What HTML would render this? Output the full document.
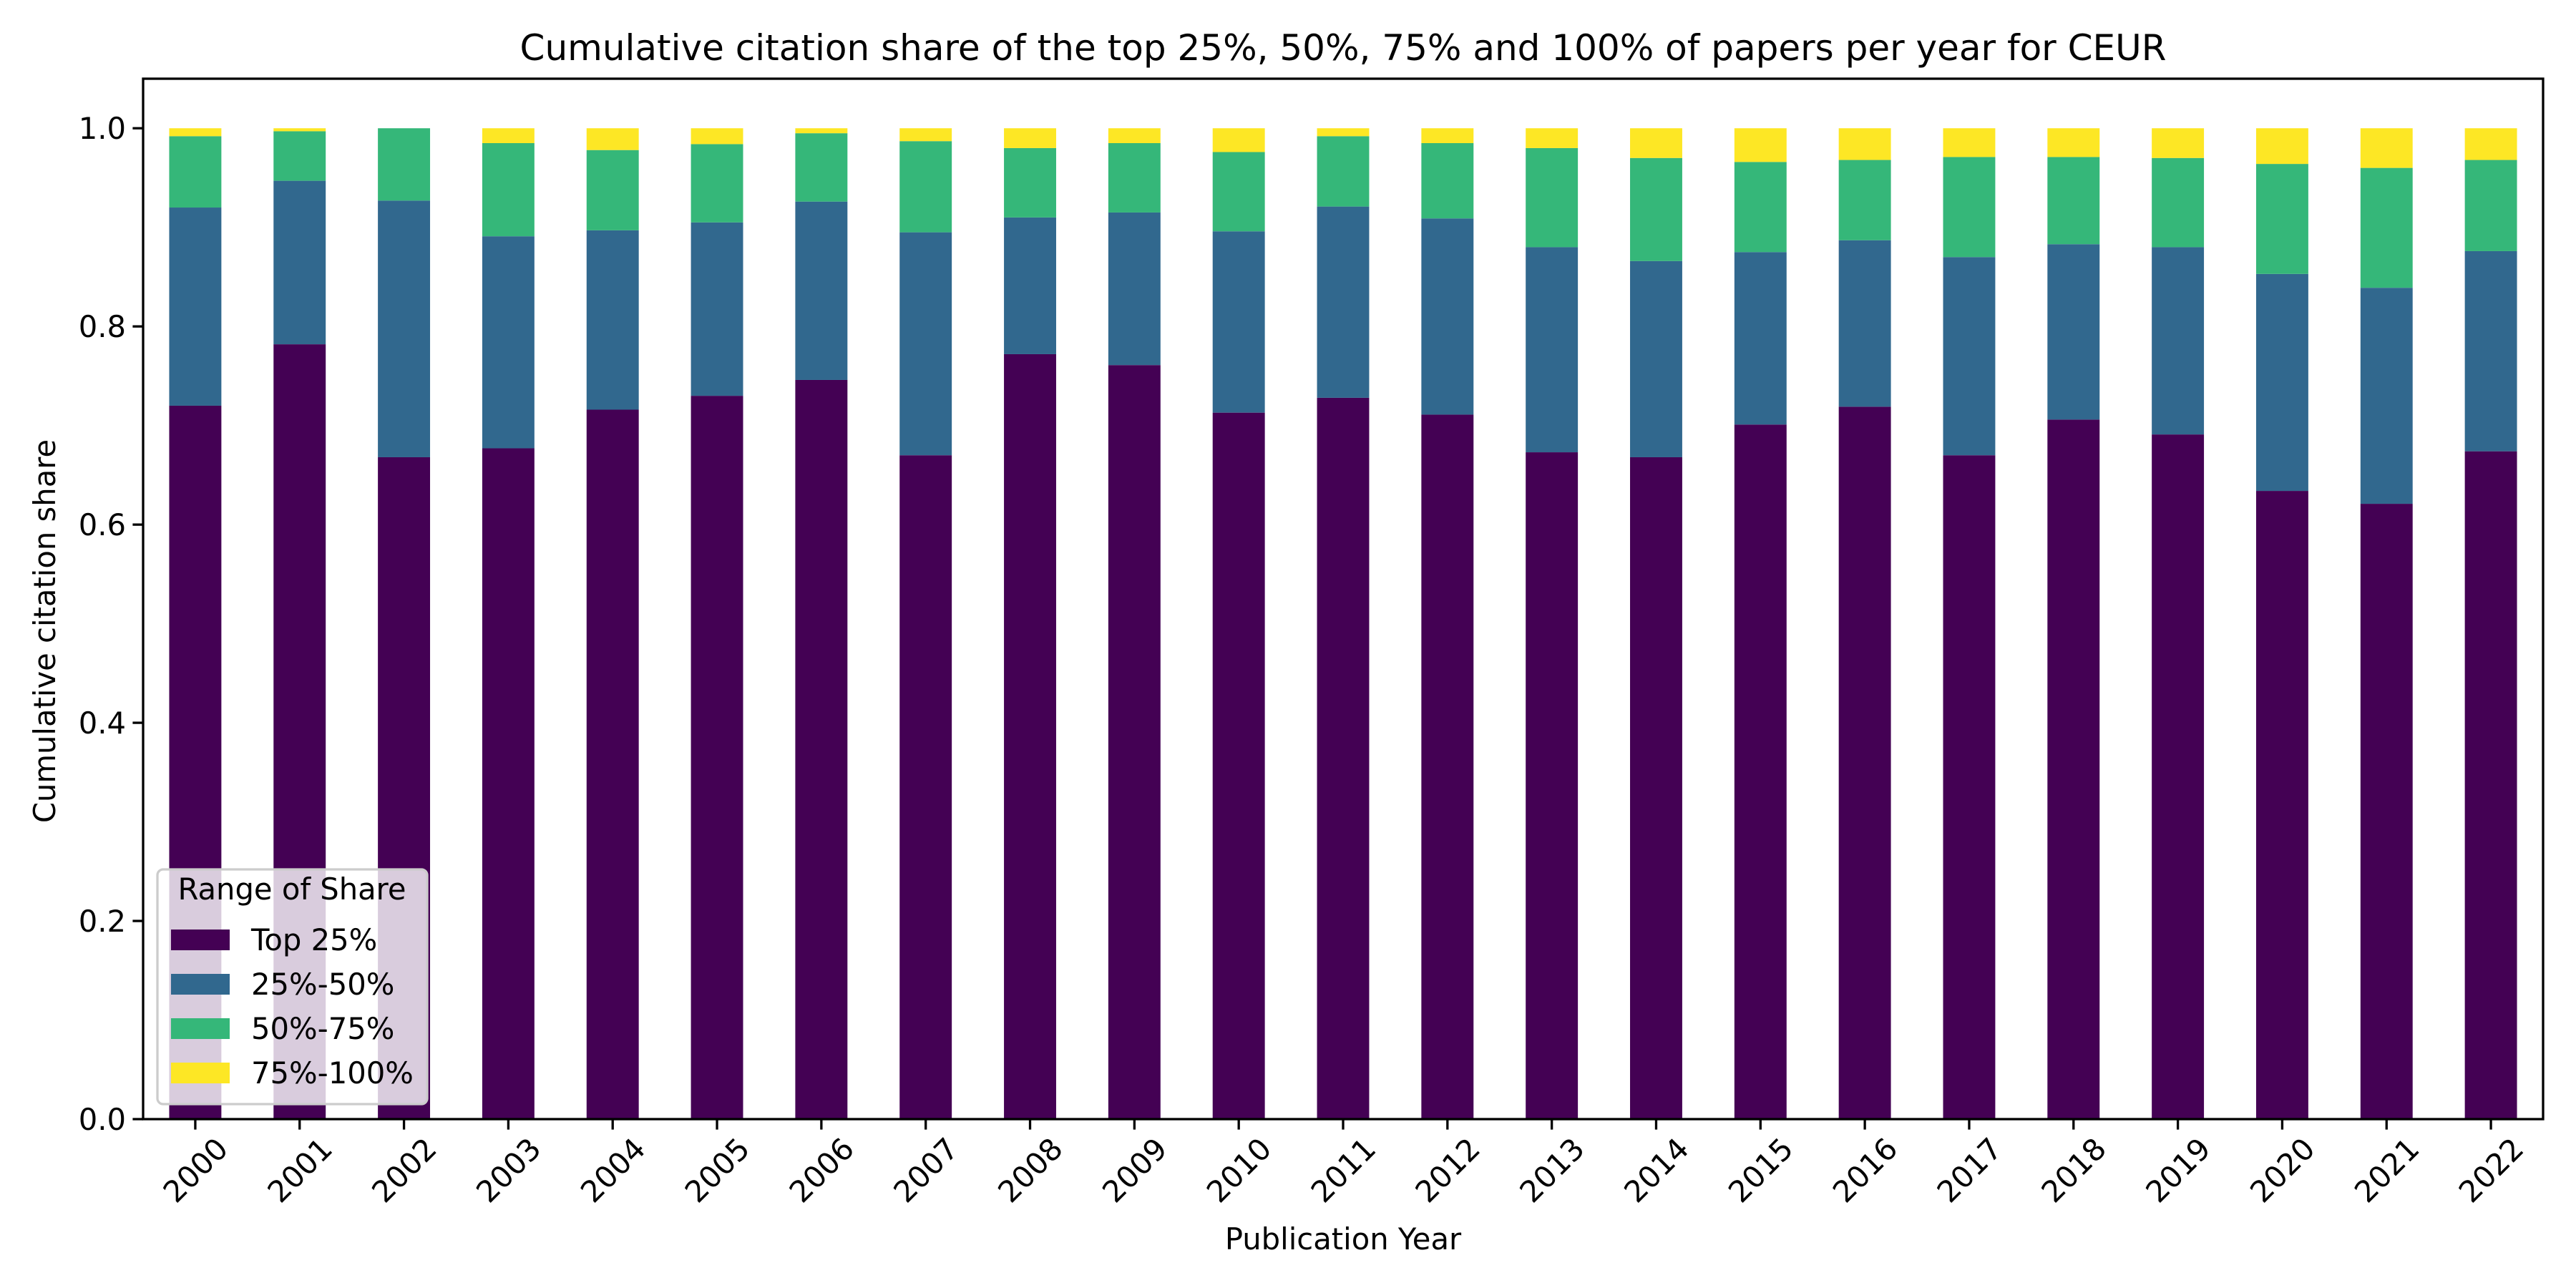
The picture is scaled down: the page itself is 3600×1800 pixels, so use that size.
<!DOCTYPE html>
<html><head><meta charset="utf-8"><style>body{margin:0;background:#fff}svg{display:block;font-family:"DejaVu Sans","Liberation Sans",sans-serif}</style></head>
<body>
<svg id="chart" width="3600" height="1800" viewBox="0 0 3600 1800" xmlns="http://www.w3.org/2000/svg">
<rect width="3600" height="1800" fill="#fff"/>
<text x="1877" y="84" font-size="50" text-anchor="middle">Cumulative citation share of the top 25%, 50%, 75% and 100% of papers per year for CEUR</text>
<g id="bars"></g>
<g id="axes"></g>
<text x="1877" y="1746" font-size="41.7" text-anchor="middle">Publication Year</text>
<text transform="translate(77,882) rotate(-90)" font-size="41.7" text-anchor="middle">Cumulative citation share</text>
<g id="legend"></g>
</svg>
<script>
const years = ["2000","2001","2002","2003","2004","2005","2006","2007","2008","2009","2010","2011","2012","2013","2014","2015","2016","2017","2018","2019","2020","2021","2022"];
const top25 = [0.720,0.782,0.668,0.677,0.716,0.730,0.746,0.670,0.772,0.761,0.713,0.728,0.711,0.673,0.668,0.701,0.719,0.670,0.706,0.691,0.634,0.621,0.674];
const s25to50 = [0.200,0.165,0.259,0.214,0.181,0.175,0.180,0.225,0.138,0.154,0.183,0.193,0.198,0.207,0.198,0.174,0.168,0.200,0.177,0.189,0.219,0.218,0.202];
const s50to75 = [0.072,0.050,0.073,0.094,0.081,0.079,0.069,0.092,0.070,0.070,0.080,0.071,0.076,0.100,0.104,0.091,0.081,0.101,0.088,0.090,0.111,0.121,0.092];
const s75to100 = [0.008,0.003,0.000,0.015,0.022,0.016,0.005,0.013,0.020,0.015,0.024,0.008,0.015,0.020,0.030,0.034,0.032,0.029,0.029,0.030,0.036,0.040,0.032];
const yTicks = ["0.0","0.2","0.4","0.6","0.8","1.0"];
const seriesNames = ["Top 25%","25%-50%","50%-75%","75%-100%"];
const colors = ["#440154","#31688e","#35b779","#fde725"];

const NS="http://www.w3.org/2000/svg";
const L=200,R=3554,T=110,B=1564;
const yMax=1.05;
const y=v=>B-(v/yMax)*(B-T);
const step=(R-L)/years.length;
const xc=i=>L+step*(i+0.5);
const bw=step*0.5;
function mk(tag,attrs,parent){const e=document.createElementNS(NS,tag);for(const k in attrs)e.setAttribute(k,attrs[k]);parent.appendChild(e);return e;}
const series=[top25,s25to50,s50to75,s75to100];
const bars=document.getElementById('bars');
years.forEach((yr,i)=>{let base=0;series.forEach((s,k)=>{const v=s[i];const r=mk('rect',{x:xc(i)-bw/2,y:y(base+v),width:bw,height:y(base)-y(base+v),fill:colors[k]},bars);


base+=v;});});
const ax=document.getElementById('axes');
mk('rect',{x:L,y:T,width:R-L,height:B-T,fill:'none',stroke:'#000','stroke-width':3.3},ax);
yTicks.forEach(t=>{const yy=y(parseFloat(t));mk('line',{x1:L,x2:L-14.6,y1:yy,y2:yy,stroke:'#000','stroke-width':3.3},ax);
const tx=mk('text',{x:L-24,y:yy+15,'font-size':41.7,'text-anchor':'end'},ax);tx.textContent=t;

});
years.forEach((yr,i)=>{const x=xc(i);mk('line',{x1:x,x2:x,y1:B,y2:B+14.6,stroke:'#000','stroke-width':3.3},ax);
const tx=mk('text',{transform:`translate(${x},${B+71}) rotate(-45)`,y:15,'font-size':41.7,'text-anchor':'middle'},ax);tx.textContent=yr;

});
const lg=document.getElementById('legend');
mk('rect',{x:220,y:1215,width:377,height:328,rx:8,fill:'#fff','fill-opacity':0.8,stroke:'#cccccc','stroke-width':3.3},lg);
const lt=mk('text',{x:408,y:1257,'font-size':41.7,'text-anchor':'middle'},lg);lt.textContent="Range of Share";


seriesNames.forEach((n,k)=>{const yy=1313+k*62;const g=mk('g',{},lg);


mk('rect',{x:239,y:yy-14,width:82,height:29,fill:colors[k]},g);
const t=mk('text',{x:351,y:yy+15,'font-size':41.7},g);t.textContent=n;});
</script>
</body></html>
